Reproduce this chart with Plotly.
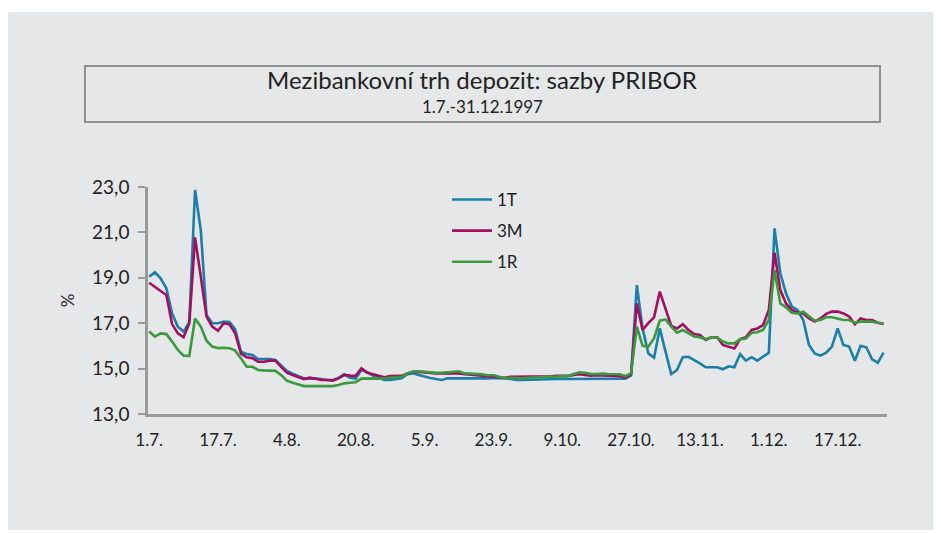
import plotly.graph_objects as go

# tick labels (business days, every 12th observation)
tick_labels = ["1.7.", "17.7.", "4.8.", "20.8.", "5.9.", "23.9.", "9.10.", "27.10.", "13.11.", "1.12.", "17.12."]
tick_index = [0, 12, 24, 36, 48, 60, 72, 84, 96, 108, 120]

pribor_1t = [
    19.05, 19.24, 18.98, 18.54, 17.43, 16.85, 16.63, 17.05, 22.87, 21.10,
    17.36, 17.00, 17.00, 17.07, 17.05, 16.73, 15.74, 15.64, 15.60, 15.42,
    15.42, 15.42, 15.38, 15.12, 14.90, 14.78, 14.66, 14.57, 14.56, 14.57,
    14.54, 14.50, 14.50, 14.59, 14.75, 14.60, 14.56, 14.95, 14.83, 14.69,
    14.60, 14.50, 14.50, 14.53, 14.57, 14.75, 14.79, 14.72, 14.64, 14.59,
    14.54, 14.50, 14.57, 14.57, 14.55, 14.54, 14.54, 14.55, 14.57, 14.57,
    14.59, 14.59, 14.57, 14.54, 14.50, 14.50, 14.51, 14.53, 14.53, 14.54,
    14.53, 14.54, 14.54, 14.54, 14.57, 14.57, 14.57, 14.57, 14.57, 14.57,
    14.57, 14.57, 14.57, 14.56, 14.70, 18.68, 16.77, 15.67, 15.48, 16.77,
    15.75, 14.76, 14.94, 15.50, 15.52, 15.38, 15.23, 15.06, 15.06, 15.06,
    14.97, 15.10, 15.06, 15.64, 15.35, 15.50, 15.35, 15.53, 15.70, 21.18,
    19.20, 18.32, 17.73, 17.58, 17.14, 16.04, 15.67, 15.57, 15.70, 15.97,
    16.77, 16.04, 15.97, 15.35, 16.00, 15.94, 15.41, 15.26, 15.70,
]

pribor_3m = [
    18.78, 18.58, 18.42, 18.24, 16.96, 16.55, 16.38, 17.00, 20.78, 19.05,
    17.29, 16.85, 16.67, 17.00, 16.95, 16.55, 15.66, 15.50, 15.46, 15.30,
    15.30, 15.35, 15.35, 15.08, 14.82, 14.72, 14.64, 14.54, 14.60, 14.54,
    14.50, 14.50, 14.47, 14.57, 14.72, 14.69, 14.68, 15.01, 14.83, 14.75,
    14.68, 14.62, 14.67, 14.67, 14.68, 14.79, 14.86, 14.85, 14.82, 14.79,
    14.79, 14.79, 14.79, 14.80, 14.79, 14.75, 14.73, 14.72, 14.71, 14.69,
    14.64, 14.61, 14.60, 14.64, 14.64, 14.64, 14.65, 14.65, 14.66, 14.66,
    14.66, 14.68, 14.68, 14.68, 14.72, 14.75, 14.72, 14.69, 14.71, 14.69,
    14.68, 14.68, 14.66, 14.60, 14.75, 17.87, 16.70, 17.00, 17.26, 18.39,
    17.65, 16.88, 16.77, 16.96, 16.70, 16.52, 16.48, 16.26, 16.38, 16.38,
    16.04, 15.97, 15.89, 16.30, 16.38, 16.70, 16.77, 16.92, 17.58, 20.11,
    18.46, 17.87, 17.58, 17.46, 17.43, 17.21, 17.07, 17.21, 17.41, 17.51,
    17.51, 17.43, 17.29, 16.95, 17.21, 17.14, 17.14, 17.02, 16.96,
]

pribor_1r = [
    16.63, 16.41, 16.55, 16.52, 16.19, 15.82, 15.57, 15.56, 17.21, 16.85,
    16.23, 15.97, 15.90, 15.92, 15.90, 15.79, 15.45, 15.08, 15.08, 14.94,
    14.92, 14.91, 14.90, 14.72, 14.47, 14.38, 14.31, 14.23, 14.23, 14.23,
    14.26, 14.26, 14.23, 14.28, 14.35, 14.38, 14.40, 14.56, 14.57, 14.57,
    14.55, 14.57, 14.62, 14.62, 14.64, 14.79, 14.87, 14.88, 14.85, 14.82,
    14.81, 14.82, 14.85, 14.86, 14.88, 14.79, 14.78, 14.78, 14.75, 14.71,
    14.71, 14.64, 14.57, 14.60, 14.57, 14.57, 14.60, 14.61, 14.64, 14.64,
    14.64, 14.66, 14.67, 14.67, 14.76, 14.84, 14.82, 14.76, 14.76, 14.78,
    14.76, 14.75, 14.75, 14.67, 14.80, 16.85, 16.00, 15.97, 16.33, 17.11,
    17.17, 16.85, 16.58, 16.70, 16.55, 16.41, 16.38, 16.29, 16.38, 16.37,
    16.19, 16.11, 16.11, 16.29, 16.33, 16.58, 16.60, 16.70, 17.14, 19.34,
    17.87, 17.70, 17.46, 17.43, 17.51, 17.29, 17.11, 17.14, 17.26, 17.26,
    17.21, 17.14, 17.14, 17.02, 17.07, 17.07, 17.07, 17.02, 16.99,
]

series_names = ["1T", "3M", "1R"]
series_colors = ["#1a80ab", "#a50d5f", "#3a9a3c"]

FONT = "Lato, 'Open Sans', sans-serif"
BG = "#e6e7e9"
OFF = 8  # page body margin in the browser

x_index = list(range(len(pribor_1t)))

fig = go.Figure()
for name, vals, col in zip(series_names, [pribor_1t, pribor_3m, pribor_1r], series_colors):
    fig.add_trace(go.Scatter(
        x=x_index, y=vals, mode="lines", name=name,
        line=dict(color=col, width=2.6), legendgroup=name,
    ))

# plot area on screen: x 148..887, y 187..414
L, R, T, B = 148 - OFF, 887 - OFF, 187 - OFF, 414 - OFF
W, H = R - L, B - T

def px(x):
    return (x - OFF - L) / W

def py(y):
    return (B - (y - OFF)) / H

fig.update_layout(
    width=941, height=533,
    margin=dict(l=L, r=941 - R, t=T, b=533 - B, pad=0),
    paper_bgcolor="white",
    plot_bgcolor=BG,
    separators=", ",
    showlegend=True,
    legend=dict(
        x=px(447), y=py(182), xanchor="left", yanchor="top",
        bgcolor="rgba(0,0,0,0)", font=dict(family=FONT, size=17, color="#222"),
        tracegroupgap=6, itemwidth=40,
    ),
    xaxis=dict(
        range=[-0.2, 128.6], tickvals=tick_index, ticktext=tick_labels,
        showgrid=False, zeroline=False, showline=True, linecolor="#9a9a9a", linewidth=2.5,
        ticks="", tickfont=dict(family=FONT, size=17, color="#222"), ticklabelstandoff=9,
    ),
    yaxis=dict(
        range=[13, 23], tickvals=[13, 15, 17, 19, 21, 23], tickformat=".1f",
        showgrid=False, zeroline=False, showline=True, linecolor="#9a9a9a", linewidth=2.5,
        ticks="outside", ticklen=7, tickwidth=2, tickcolor="#9a9a9a",
        tickfont=dict(family=FONT, size=19, color="#222"), ticklabelstandoff=5,
        title=dict(text="%", font=dict(family=FONT, size=17, color="#222"), standoff=14),
    ),
    shapes=[
        dict(type="rect", xref="paper", yref="paper", layer="below",
             x0=px(8), x1=px(934), y0=py(530), y1=py(12),
             fillcolor=BG, line=dict(width=0)),
        dict(type="rect", xref="paper", yref="paper", layer="above",
             x0=px(85), x1=px(880), y0=py(122), y1=py(66),
             fillcolor="rgba(0,0,0,0)", line=dict(color="#8f8f8f", width=2)),
    ],
    annotations=[
        dict(text="Mezibankovní trh depozit: sazby PRIBOR", xref="paper", yref="paper",
             x=px(482), y=py(80), xanchor="center", yanchor="middle", showarrow=False,
             font=dict(family=FONT, size=24, color="#222")),
        dict(text="1.7.-31.12.1997", xref="paper", yref="paper",
             x=px(482), y=py(107), xanchor="center", yanchor="middle", showarrow=False,
             font=dict(family=FONT, size=17, color="#222")),
    ],
)

fig.write_html("out.html")
